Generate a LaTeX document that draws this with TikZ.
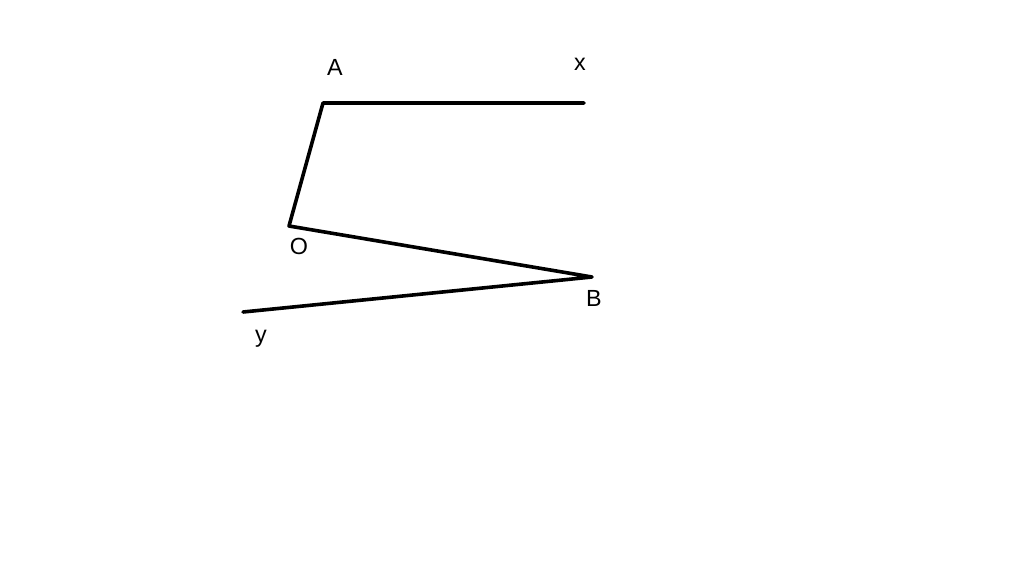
\documentclass[tikz,border=0pt]{standalone}
\usepackage{fontspec}
\setmainfont{Liberation Sans}
\begin{document}
\begin{tikzpicture}[x=0.75pt,y=-0.75pt,
  seg/.style={line width=2.7pt,line cap=round,line join=round},
  lbl/.style={font=\fontsize{17.5}{17.5}\selectfont,inner sep=0pt}]
\useasboundingbox[fill=white] (0,0) rectangle (1024,576);
\coordinate (A) at (323,103);
\coordinate (X) at (584,103);
\coordinate (O) at (289,226);
\coordinate (B) at (592,277);
\coordinate (Y) at (243,312);
\draw[seg] (X) -- (A) -- (O) -- (B) -- (Y);
\node[lbl] (lA) at (335,67) {A};
\node[lbl] (lx) at (580,64) {x};
\node[lbl] (lO) at (299,246) {O};
\node[lbl] (lB) at (594,298) {B};
\node[lbl] (ly) at (261,339) {y};
\end{tikzpicture}
\end{document}
